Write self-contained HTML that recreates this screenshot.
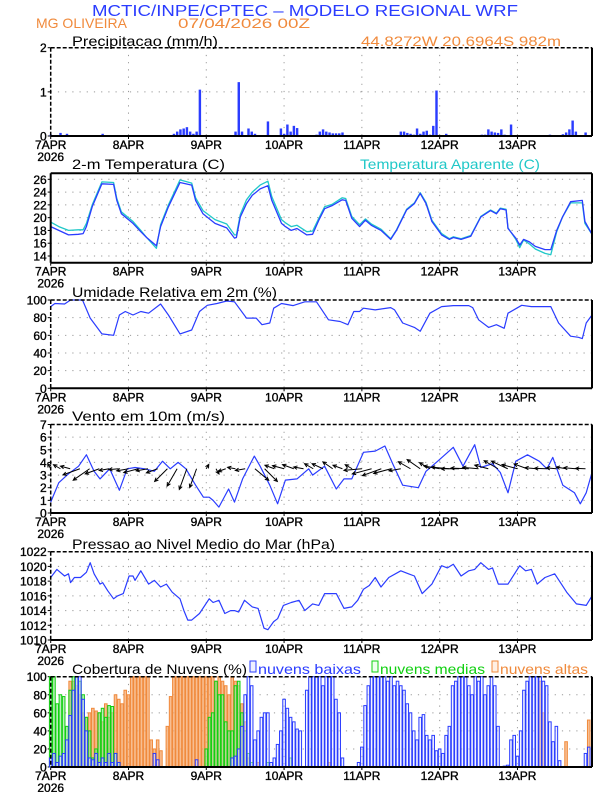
<!DOCTYPE html>
<html><head><meta charset="utf-8"><style>
html,body{margin:0;padding:0;background:#fff;}
svg{display:block;font-family:"Liberation Sans",sans-serif;}
</style></head><body>
<svg id="chart" width="612" height="792" viewBox="0 0 612 792">
<text x="92" y="16" font-size="16" fill="#2a3cff" textLength="426" lengthAdjust="spacingAndGlyphs">MCTIC/INPE/CPTEC – MODELO REGIONAL WRF</text>
<text x="36" y="28" font-size="14" fill="#f08a3c" textLength="91" lengthAdjust="spacingAndGlyphs">MG OLIVEIRA</text>
<text x="178" y="28" font-size="14" fill="#f08a3c" textLength="132" lengthAdjust="spacingAndGlyphs">07/04/2026 00Z</text>
<text x="72" y="46" font-size="14" fill="#000" textLength="146" lengthAdjust="spacingAndGlyphs">Precipitacao (mm/h)</text>
<text x="361" y="46" font-size="14" fill="#f08a3c" textLength="200" lengthAdjust="spacingAndGlyphs">44.8272W 20.6964S 982m</text>
<text x="72" y="169" font-size="14" fill="#000" textLength="153" lengthAdjust="spacingAndGlyphs">2-m Temperatura (C)</text>
<text x="360" y="169" font-size="14" fill="#20c8c8" textLength="180" lengthAdjust="spacingAndGlyphs">Temperatura Aparente (C)</text>
<text x="72" y="297" font-size="14" fill="#000" textLength="205" lengthAdjust="spacingAndGlyphs">Umidade Relativa em 2m (%)</text>
<text x="72" y="421" font-size="14" fill="#000" textLength="153" lengthAdjust="spacingAndGlyphs">Vento em 10m (m/s)</text>
<text x="72" y="549" font-size="14" fill="#000" textLength="263" lengthAdjust="spacingAndGlyphs">Pressao ao Nivel Medio do Mar (hPa)</text>
<text x="72" y="674" font-size="14" fill="#000" textLength="175" lengthAdjust="spacingAndGlyphs">Cobertura de Nuvens (%)</text>
<rect x="250" y="661" width="6" height="11" fill="#eef0ff" stroke="#2a3cff" stroke-width="1"/>
<text x="258" y="674" font-size="14" fill="#2a3cff" textLength="103" lengthAdjust="spacingAndGlyphs">nuvens baixas</text>
<rect x="372" y="661" width="6" height="11" fill="#efffef" stroke="#10d010" stroke-width="1"/>
<text x="380" y="674" font-size="14" fill="#10d010" textLength="105" lengthAdjust="spacingAndGlyphs">nuvens medias</text>
<rect x="492" y="661" width="6" height="11" fill="#fff0e4" stroke="#f08a3c" stroke-width="1"/>
<text x="500" y="674" font-size="14" fill="#f08a3c" textLength="88" lengthAdjust="spacingAndGlyphs">nuvens altas</text>
</svg>
<script>
const dayLabels = ['7APR','8APR','9APR','10APR','11APR','12APR','13APR'];
const precip = [.03,.02,0,.07,0,.05,0,0,0,0, 0,0,0,0,0,0,.05,0,0,0, 0,0,0,0,0,0,0,0,0,0, 0,0,0,0,0,0,0,0,.05,.1,
 .15,.17,.2,.1,.05,.1,1.05,0,0,0, 0,0,0,0,0,0,0,.1,1.22,.1, 0,.17,.1,.05,0,0,0,.33,0,0, 0,.17,.05,.26,.1,.23,.18,0,0,0,
 .02,.02,.03,.1,.15,.1,.08,.06,.06,.06, .08,0,0,0,0,0,0,0,0,0, 0,0,0,0,0,0,0,0,.1,.1, .07,.05,.03,.17,.05,.1,.12,.03,.23,1.03,
 0,0,.05,0,0,0,0,0,0,0, 0,0,.02,.03,.03,.15,.1,.08,.07,.15, .03,0,.26,0,0,0,0,0,0,0, 0,0,0,0,.03,0,0,0,.04,.08, .15,.35,.1,0,0,.08,0,0];
const tempHours = [0,2.5,5.5,8.5,10,11,12.8,15.8,19.4,20.4,21.8,25.4,27.8,29.6,32.6,33.9,36.3,39.9,43.5,44.7,47,50.7,54.3,56.7,57.3,58.5,60.4,62.2,64.6,67,68.2,71.2,72.4,74.2,76,79,80.8,82.7,84.5,86.9,89.9,91,92.9,95.3,97.1,98.9,101.9,104.9,106.7,109.8,112.2,114,115.8,117.6,120.6,123,124.2,126.6,129.6,132.7,135.7,137.5,138.7,140.5,141.1,143.5,144.7,145.9,147.7,149.5,152.5,154.3,156.1,157.9,160.4,164,164.8,167];
const temp2m = [18.6,18.0,17.3,17.4,17.5,18.6,21.7,25.3,25.2,22.7,20.6,19.1,17.8,16.9,15.6,18.6,21.7,25.5,25.1,22.7,20.6,19.1,18.4,16.8,16.9,20.1,22.2,23.5,24.5,25.0,22.7,19.1,18.6,18.0,18.3,17.3,17.4,19.6,21.4,21.9,22.8,22.7,19.9,18.6,19.6,18.8,18.0,16.6,18.0,21.2,22.2,23.8,22.2,19.4,17.3,16.6,16.9,16.6,17.1,20.1,21.1,20.6,21.4,21.2,18.3,16.8,15.7,16.6,16.2,15.5,15.0,15.0,18.0,20.1,22.5,22.7,19.4,17.4];
const tempApparent = [19.3,18.6,18.0,18.1,18.1,19.1,22.0,25.6,25.5,23.0,20.9,19.4,18.0,16.9,15.2,18.9,22.0,25.9,25.4,23.1,21.1,19.7,19.0,17.3,17.3,20.5,22.8,24.0,25.1,25.7,23.3,19.7,19.2,18.6,18.8,17.8,17.9,19.9,21.7,22.1,23.1,23.0,20.2,18.9,19.8,19.0,18.2,16.7,18.1,21.3,22.3,23.9,22.4,19.6,17.5,16.7,17.0,16.7,17.2,20.2,21.2,20.7,21.5,21.3,18.4,16.6,15.3,16.5,15.9,15.1,14.4,14.2,17.8,20.1,22.3,22.3,19.1,17.4];
const rhHours = [0,1.3,4.3,6.1,9.8,12.2,15.8,19.4,21.2,23,25.4,27.8,30.2,33.9,36.3,39.9,43.5,45.9,48.3,51.3,54.3,56.7,60.4,63.4,65.2,67.6,68.8,71.2,74.8,78.4,82,85.7,89.3,91.7,93.5,95.3,96.5,100.1,104.9,106.1,108.6,112.2,114,117,120.6,124.2,129,130.2,132,135.1,137.5,139.9,141.1,145.3,148.3,154.3,156.7,160.4,162.8,164,165.2,167];
const rhValues = [92.5,96,95.5,100,100,79.5,61.6,60,83,87,83,87,85,95.5,83,61.6,66,87,94,96,98.9,98,79.5,79.5,72,74,90.7,96,93.7,98,98,77.6,75.7,72,87,87,90.7,88.8,91.4,88.8,74,69,64.6,85,92.5,93.7,93.7,91.4,77.6,69,72,68,85,94,92.5,92.5,74,59,57.8,56.3,74,83];
const windHours = [0,2.5,5.5,8.6,11,13.4,15.2,18.2,21.2,23.6,26,29,32,34.5,36.9,39.3,41.7,44.7,47.1,48.9,50.1,51.9,54.9,56.7,59.2,62.8,64.6,67.6,70,72.4,76,79.6,80.8,84.5,88.1,90.5,92.9,96.5,100.1,103.1,105.5,108.6,113.4,115.8,119.4,124.2,127.2,130.8,132.7,136.3,138.7,141.1,143.5,147.1,150.7,153.1,154.9,158,161.6,163.4,165.2,167];
const windSpeed = [0.86,2.4,3.1,3.7,4.6,3.3,2.7,3.5,1.8,3.5,3.6,3.5,3.3,4.1,3.5,4.0,3.5,2.2,1.25,1.25,1.0,0.47,1.9,0.86,2.7,4.5,3.7,2.2,0.73,2.6,2.7,3.5,3.0,3.7,1.9,2.7,2.7,4.8,4.9,5.3,3.9,2.2,2.0,3.3,4.1,5.2,3.7,5.4,3.6,3.9,3.2,1.6,4.1,4.6,4.1,3.5,4.4,2.2,1.6,0.73,1.6,3.2];
const arrowDir = [120,150,165,200,215,200,190,185,190,195,190,200,225,240,250,250,60,300,200,170,190,320,315,160,165,160,170,150,155,145,160,150,185,195,200,195,190,150,145,150,170,175,180,178,175,165,150,155,165,160,175,178,175,170,175,178];
const arrowLen = [6,8,10,18,20,15,10,10,12,15,12,12,18,20,22,20,5,6,8,8,10,18,18,10,12,12,10,10,12,12,10,8,18,20,20,18,12,14,16,12,16,18,18,18,16,14,16,18,16,14,12,12,10,10,12,10];
const presHours = [0,1.9,4.3,5.5,6.1,7.3,9.2,11,12.2,13.4,15.2,16,17.6,19.4,20.6,22.4,24.2,25.4,26,27.8,30.2,32,33.9,35.7,37.5,39.9,41.1,42.3,43.5,45.9,48.9,50.1,51.9,53.7,55.5,56.7,58,59.8,62.2,64,65.8,67,68.8,70,71.8,74.2,76.6,78.4,80.8,82.7,84.5,86.3,88.1,90.5,92.9,94.7,96.5,98.3,100.1,101.9,104.3,108,110.4,112.2,114.6,117.6,120.6,122.4,124.2,126.6,129,130.8,132.7,135.1,136.3,138.1,141.1,144.7,146.5,148.3,150.1,152.5,155.5,159.2,162.2,165.2,167];
const presValues = [1018.5,1019.6,1018.7,1019.0,1017.8,1018.5,1018.5,1019.2,1020.5,1019.0,1017.6,1017.8,1016.7,1015.6,1016.0,1016.3,1018.7,1018.7,1018.1,1019.4,1017.6,1018.1,1017.2,1017.6,1016.5,1015.6,1014.0,1012.7,1012.7,1013.6,1015.6,1015.1,1015.4,1013.6,1014.0,1014.0,1013.8,1015.4,1014.5,1014.3,1011.6,1011.4,1012.5,1012.9,1014.7,1015.1,1015.4,1014.0,1014.9,1014.7,1016.3,1016.3,1016.3,1014.3,1014.5,1015.4,1016.9,1017.4,1018.5,1017.2,1018.5,1019.4,1019.0,1018.7,1016.3,1017.6,1020.1,1019.8,1020.3,1018.7,1019.4,1019.6,1020.5,1019.6,1019.8,1017.6,1017.6,1020.1,1019.4,1019.6,1017.6,1018.5,1019.0,1016.5,1014.9,1014.7,1016.0];
const cloudHigh = [0,0,0,0,0,0,95,95,90,80, 60,55,60,65,62,60,50,70,55,60, 80,75,70,85,80,100,100,100,100,100, 100,30,20,30,18,0,45,78,100,100,
 100,100,100,100,100,100,100,100,100,100, 100,95,100,95,90,80,100,95,90,70, 50,10,0,0,5,0,0,0,0,0, 0,0,0,0,0,0,0,0,0,0,
 0,0,0,0,0,0,5,0,0,0, 0,0,0,0,0,0,0,0,0,0, 0,0,0,0,0,0,0,0,0,0, 0,0,0,0,0,0,0,0,0,0, 0,0,0,0,0,0,0,0,0,0,
 0,0,0,0,0,0,0,0,0,0, 0,0,0,0,0,0,0,0,0,0, 0,95,60,0,0,0,0,0,0,28, 0,0,0,0,0,0,52,0];
const cloudMid = [100,100,70,80,78,45,85,100,100,95, 80,55,40,10,20,60,65,55,68,67, 15,5,0,0,0,0,0,0,0,0, 0,0,0,0,0,0,0,0,0,0,
 0,0,0,0,0,0,0,0,20,55, 60,95,80,80,50,40,40,90,95,60, 40,15,5,0,0,0,0,5,0,0, 0,0,0,0,10,0,0,0,0,0,
 0,0,0,0,0,0,0,0,0,0, 0,0,0,0,0,0,0,0,0,0, 0,0,0,0,0,0,0,0,0,0, 0,0,0,0,0,0,0,0,0,0, 0,0,0,0,0,0,0,0,0,0,
 0,0,0,0,0,0,0,0,0,0, 0,0,0,0,0,0,0,0,0,0, 0,0,0,0,0,0,0,0,0,0, 0,0,0,0,0,0,0,0];
const cloudLow = [10,15,5,12,15,30,57,85,100,100, 75,40,10,8,15,5,10,5,15,5, 15,5,0,0,0,0,0,0,0,0, 0,0,15,8,0,0,0,0,0,0,
 0,0,0,0,0,8,0,0,0,0, 0,0,0,0,0,0,10,12,20,45, 80,100,90,30,40,55,60,60,5,10, 25,40,75,65,55,50,42,40,0,85,
 100,100,100,100,90,100,100,100,75,60, 10,0,0,0,0,5,22,68,90,100, 100,100,100,100,95,100,90,95,90,85, 70,60,40,30,55,58,35,30,35,18,
 20,15,35,45,90,95,100,100,100,90, 80,100,95,100,80,90,100,90,45,0, 1,2,30,35,12,40,85,95,100,100, 100,100,95,90,50,28,45,7,0,0,
 0,0,0,0,0,15,22,0];

const NS='http://www.w3.org/2000/svg';
const svg=document.getElementById('chart');
const X0=50.7, X1=592, HMAX=167;
function xOf(h){return X0+(X1-X0)*h/HMAX;}
function mk(tag,attrs,parent){const e=document.createElementNS(NS,tag);for(const k in attrs)e.setAttribute(k,attrs[k]);(parent||svg).appendChild(e);return e;}
function yScale(p,v){return p.bot-(v-p.min)/(p.max-p.min)*(p.bot-p.top0);}

const panels={
 precip:{top:47.7,bot:136,min:0,max:2,ticks:[0,1,2],solid:false},
 temp:{top:173.3,bot:262.7,min:13.17,max:27.2,ticks:[14,16,18,20,22,24,26],solid:true},
 rh:{top:300,bot:388.3,min:0,max:100,ticks:[0,20,40,60,80,100],solid:false},
 wind:{top:424.5,bot:513,min:0,max:7,ticks:[0,1,2,3,4,5,6,7],solid:false},
 pres:{top:551.7,bot:640,min:1010,max:1022,ticks:[1010,1012,1014,1016,1018,1020,1022],solid:false},
 cloud:{top:676.7,bot:767,min:0,max:100,ticks:[0,20,40,60,80,100],solid:false}
};
for(const k in panels){const p=panels[k];p.top0=p.top;}

function drawPanel(name,p){
  const g=mk('g',{});
  
  
  for(let d=1;d<7;d++){
    const x=xOf(d*24);
    const l=mk('line',{x1:x,x2:x,y1:p.top,y2:p.bot,stroke:'#999','stroke-width':1,'stroke-dasharray':'1.2,6'},g);
    
    
  }
  p.ticks.forEach(t=>{
    const y=yScale(p,t);
    if(y>p.top+1&&y<p.bot-1){
      const l=mk('line',{x1:X0,x2:X1,y1:y,y2:y,stroke:'#999','stroke-width':1,'stroke-dasharray':'1.2,6'},g);
      
      
    }
    mk('line',{x1:X0-3,x2:X0,y1:y,y2:y,stroke:'#000','stroke-width':1},g);
    const tx=mk('text',{x:X0-4,y:y+4.5,'font-size':12,'text-anchor':'end',fill:'#000',stroke:'#000','stroke-width':0.35},g);
    tx.textContent=t;
    
    
  });
  dayLabels.forEach((lab,i)=>{
    const x=xOf(i*24);
    mk('line',{x1:x,x2:x,y1:p.bot,y2:p.bot+3,stroke:'#000','stroke-width':1},g);
    const tx=mk('text',{x:x,y:p.bot+13,'font-size':12,'text-anchor':'middle',fill:'#000',stroke:'#000','stroke-width':0.35},g);
    tx.textContent=lab;
    
    
  });
  const yr=mk('text',{x:xOf(0),y:p.bot+25,'font-size':12,'text-anchor':'middle',fill:'#000',stroke:'#000','stroke-width':0.35},g);
  yr.textContent='2026';
  
  
  return g;
}
function drawFrame(name,p){
  const dash=p.solid?'none':'4,2';
  mk('line',{x1:X0,x2:X1,y1:p.top,y2:p.top,stroke:'#000','stroke-width':p.solid?2:1.5,'stroke-dasharray':dash});
  mk('line',{x1:X0,x2:X0,y1:p.top,y2:p.bot,stroke:'#000','stroke-width':p.solid?2:1.5,'stroke-dasharray':dash});
  mk('line',{x1:X1,x2:X1,y1:p.top,y2:p.bot,stroke:'#000','stroke-width':2});
  mk('line',{x1:X0,x2:X1,y1:p.bot,y2:p.bot,stroke:'#000','stroke-width':2});
}
function linePath(name,p,hours,vals,color,w){
  const d=hours.map((h,i)=>(i?'L':'M')+xOf(h).toFixed(1)+','+yScale(p,vals[i]).toFixed(1)).join('');
  const e=mk('path',{d:d,fill:'none',stroke:color,'stroke-width':w,'stroke-linejoin':'round'});
  
  
}

const bw=(X1-X0)/HMAX;
drawPanel('precip',panels.precip);
precip.forEach((v,i)=>{
  if(v<=0)return;
  const y=yScale(panels.precip,v);
  const r=mk('rect',{x:xOf(i)-bw*0.35,y:y,width:bw*0.75,height:panels.precip.bot-y,fill:'#2a3cff'});
  
  
});
drawFrame('precip',panels.precip);
(function(){const p=panels.temp;const y14=256,y26=179.3;const s=(y14-y26)/12;p.min=14-(262.7-y14)/s;p.max=p.min+(262.7-173.3)/s;p.top0=173.3;})();
drawPanel('temp',panels.temp);
linePath('apparent-temp-line',panels.temp,tempHours,tempApparent,'#20c8c8',1.3);
linePath('temp-2m-line',panels.temp,tempHours,temp2m,'#2a3cff',1.3);
drawFrame('temp',panels.temp);
drawPanel('rh',panels.rh);
linePath('rh-line',panels.rh,rhHours,rhValues,'#2a3cff',1.2);
drawFrame('rh',panels.rh);
drawPanel('wind',panels.wind);
linePath('wind-speed-line',panels.wind,windHours,windSpeed,'#2a3cff',1.2);
arrowDir.forEach((deg,i)=>{
  const h=i*3; const x=xOf(h); const y=yScale(panels.wind,3.5);
  const a=deg*Math.PI/180; const L=arrowLen[i];
  const x2=x+L*Math.cos(a), y2=y-L*Math.sin(a);
  const hx1=x2-4*Math.cos(a-0.45), hy1=y2+4*Math.sin(a-0.45);
  const hx2=x2-4*Math.cos(a+0.45), hy2=y2+4*Math.sin(a+0.45);
  const e=mk('path',{d:`M${x},${y}L${x2},${y2}M${hx1},${hy1}L${x2},${y2}L${hx2},${hy2}`,stroke:'#000','stroke-width':1,fill:'none'});
  
  
});
drawFrame('wind',panels.wind);
drawPanel('pres',panels.pres);
linePath('pressure-line',panels.pres,presHours,presValues,'#2a3cff',1.2);
drawFrame('pres',panels.pres);
drawPanel('cloud',panels.cloud);
function cloudBars(arr,fill,op,stroke,name){
  arr.forEach((v,i)=>{
    if(v<=0)return;
    const y=yScale(panels.cloud,v);
    const r=mk('rect',{x:xOf(i)-bw*0.4,y:y,width:bw*0.8,height:panels.cloud.bot-y,fill:fill,'fill-opacity':op,stroke:stroke,'stroke-width':1});
    
    
  });
}
cloudBars(cloudHigh,'#f6a86c',0.75,'#f08a3c','cloud-high-bar');
cloudBars(cloudMid,'#8fe28f',0.6,'#10d010','cloud-mid-bar');
cloudBars(cloudLow,'#dfe4ff',0.45,'#2a3cff','cloud-low-bar');
drawFrame('cloud',panels.cloud);
</script>
</body></html>
